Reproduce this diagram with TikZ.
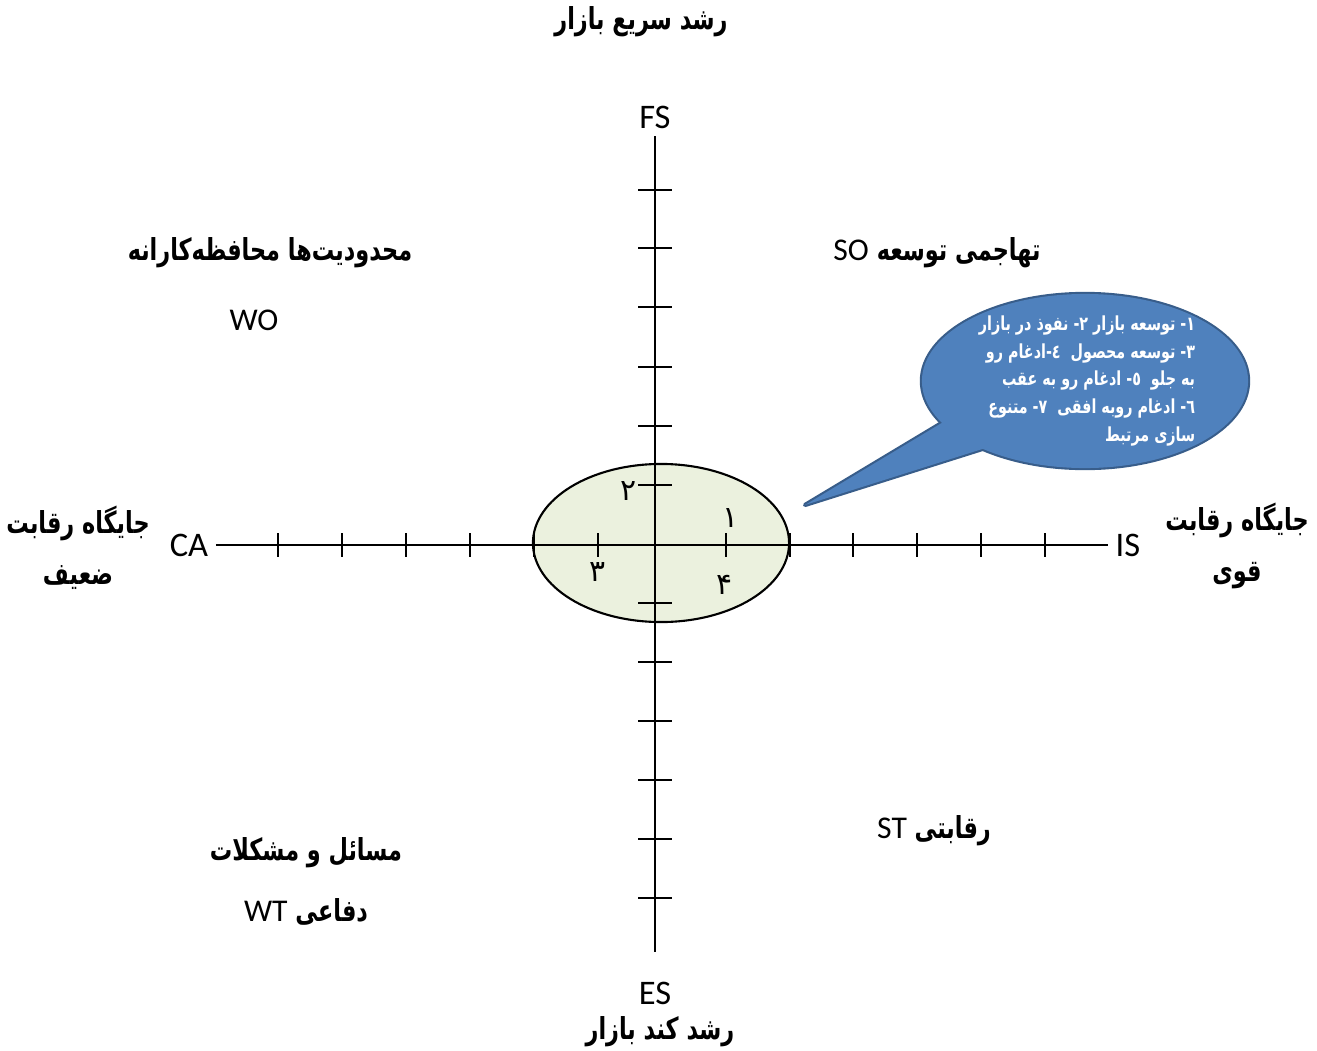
\documentclass[tikz,border=0pt]{standalone}
\usepackage{fontspec}
\setmainfont{Carlito}
\newfontfamily\farsi[Script=Arabic]{DejaVu Sans}
\newfontfamily\farsinarrow[Script=Arabic, FakeStretch=0.74]{DejaVu Sans}
\TeXXeTstate=1
\usepackage{xcolor}
\definecolor{calloutblue}{HTML}{4F81BD}
\definecolor{calloutedge}{HTML}{385D8A}
\definecolor{zonegreen}{HTML}{EBF1DE}
\usepackage{tikz}
\usetikzlibrary{calc}
\newcommand{\fl}[1]{\beginR #1\endR}
\newcommand{\lat}[1]{{\rmfamily\mdseries\fontsize{9}{12}\selectfont #1}}

\begin{document}
\begin{tikzpicture}[x=0.01cm,y=-0.01cm,
    axisline/.style={line width=0.7pt},
    axislabel/.style={font=\fontsize{9.8}{12}\selectfont, inner sep=2pt},
    quadtitle/.style={font=\farsinarrow\bfseries\fontsize{8.6}{12}\selectfont},
    sidetitle/.style={font=\farsinarrow\bfseries\fontsize{8.6}{14.5}\selectfont, align=center},
    zonenum/.style={font=\farsi\fontsize{8.5}{10}\selectfont, inner sep=0pt},
    callouttext/.style={font=\farsinarrow\bfseries\fontsize{5.5}{7.9}\selectfont,
      text=white, align=right}]
  \useasboundingbox (0,0) rectangle (1317,1051);
  % Zone of the present position
  \filldraw[fill=zonegreen, draw=black, line width=0.6pt]
    (661,543) ellipse [x radius=1.28cm, y radius=0.79cm];
  % Axes and their end labels
  \node[axislabel] (ca) at (189,545) {CA};
  \node[axislabel] (is) at (1128,545) {IS};
  \node[axislabel] (fs) at (655,117) {FS};
  \node[axislabel] (es) at (655,993) {ES};
  \coordinate (esend) at (655,952);
  \draw[axisline] (ca) -- (is);
  \draw[axisline] (fs) -- (esend);
  % Ticks
  \foreach \x in {278,342,406,470,534,598,726,790,853,917,981,1045}
    \draw[axisline] (\x,533) -- (\x,557);
  \foreach \y in {190,248,307,367,426,485,603,662,721,780,839,898}
    \draw[axisline] (638,\y) -- (672,\y);
  % Numbers inside the zone
  \node[zonenum] (n1) at (731,518) {۱};
  \node[zonenum] (n2) at (629,491) {۲};
  \node[zonenum] (n3) at (598,572) {۳};
  \node[zonenum] (n4) at (725,585) {۴};
  % Axis titles
  \node[quadtitle] (fast) at (641,22) {\fl{رشد سریع بازار}};
  \node[quadtitle] (slow) at (660,1032) {\fl{رشد کند بازار}};
  \node[sidetitle] (weak) at (78,548) {\fl{جایگاه رقابت}\\\fl{ضعیف}};
  \node[sidetitle] (strong) at (1237,546) {\fl{جایگاه رقابت}\\\fl{قوی}};
  % Quadrant titles
  \node[quadtitle] (wotitle) at (270,253) {\fl{محدودیت‌ها محافظه‌کارانه}};
  \node (wo) at (254,320) {\lat{WO}};
  \node[quadtitle] (so) at (937,253)
    {\beginR تهاجمی توسعه \beginL\lat{SO}\endL\endR};
  \node[quadtitle] (st) at (934,831)
    {\beginR رقابتی \beginL\lat{ST}\endL\endR};
  \node[quadtitle] (wttitle) at (306,853) {\fl{مسائل و مشکلات}};
  \node[quadtitle] (wt) at (306,912)
    {\beginR دفاعی \beginL\lat{WT}\endL\endR};
  % Callout with the strategies
  \draw[calloutedge, line width=1.2pt, line join=round]
    (1085,381) ellipse [x radius=1.63cm, y radius=0.87cm];
  \draw[calloutedge, line width=1.2pt, line join=round]
    (950,418) -- (805,505) -- (995,445);
  \fill[calloutblue] (1085,381) ellipse [x radius=1.63cm, y radius=0.87cm];
  \fill[calloutblue] (950,418) -- (805,505) -- (995,445) -- cycle;
  \node[callouttext] (moves) at (1087,381)
    {\fl{١- توسعه بازار ٢- نفوذ در بازار}\\
     \fl{٣- توسعه محصول\ \ ٤-ادغام رو}\\
     \fl{به جلو\ \ ٥- ادغام رو به عقب}\\
     \fl{٦- ادغام روبه افقی\ \ ٧- متنوع}\\
     \fl{سازی مرتبط}};
\end{tikzpicture}
\end{document}
